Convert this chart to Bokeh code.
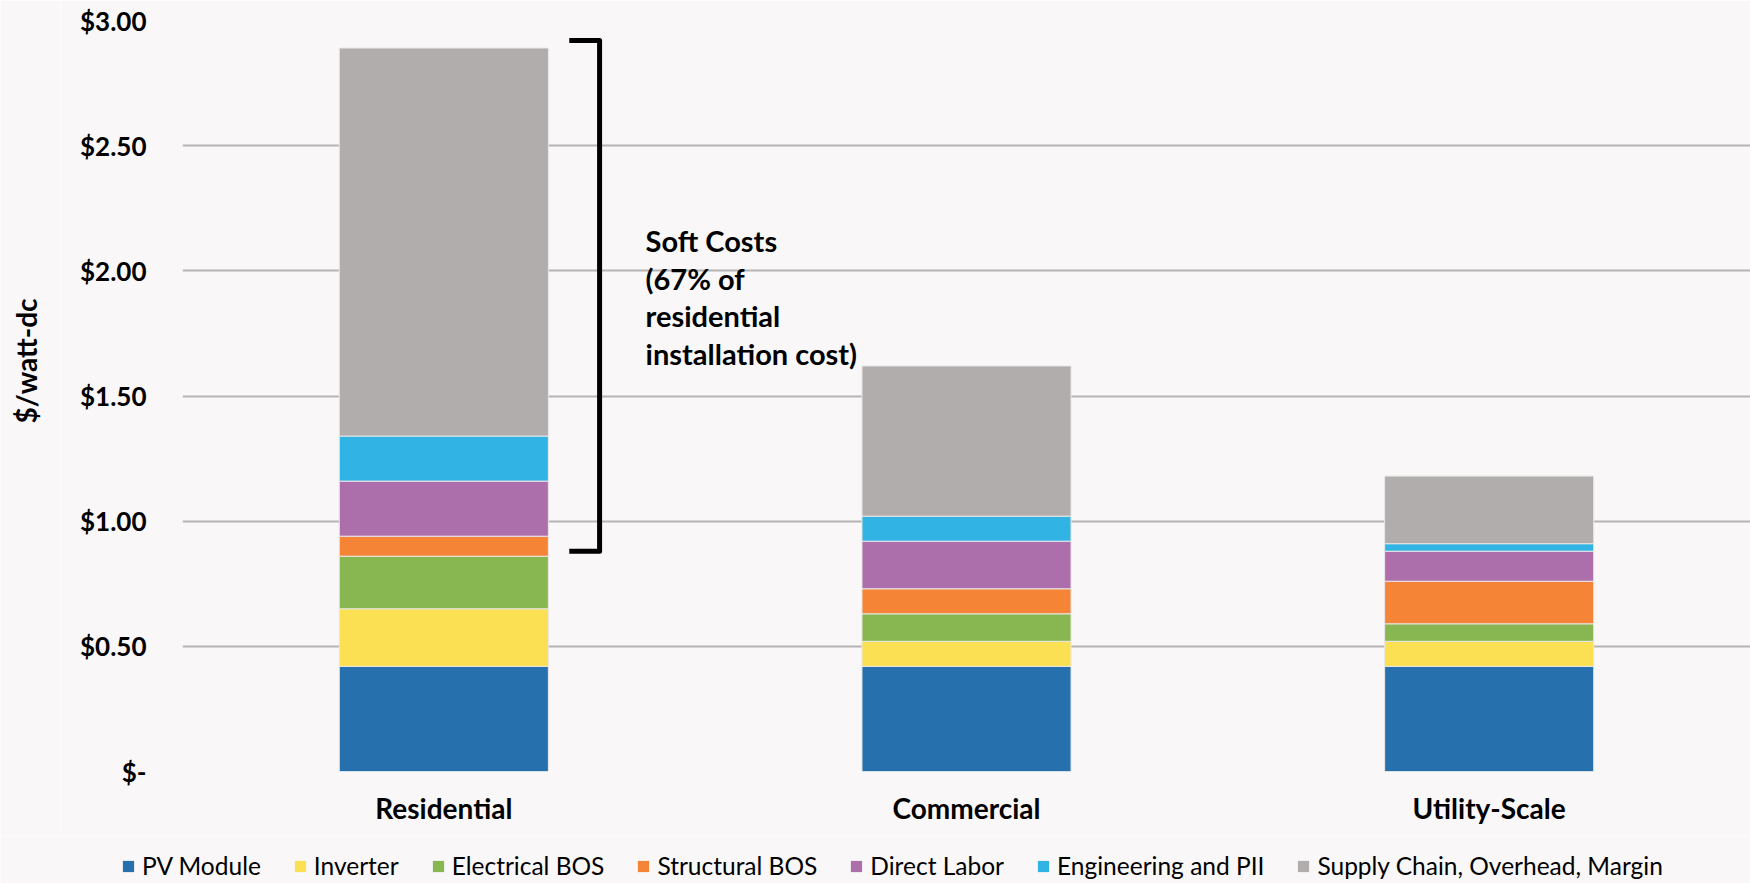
import math
from bokeh.plotting import figure
from bokeh.layouts import column, row
from bokeh.models import Range1d, FixedTicker, Legend, LegendItem, ColumnDataSource
from bokeh.core.properties import value
from bokeh.embed import file_html
from bokeh.resources import INLINE

# ---------------- data ----------------
categories = ["Residential", "Commercial", "Utility-Scale"]
series_names = ["PV Module", "Inverter", "Electrical BOS", "Structural BOS",
                "Direct Labor", "Engineering and PII", "Supply Chain, Overhead, Margin"]
pv_module = [0.42, 0.42, 0.42]
inverter = [0.23, 0.10, 0.10]
electrical_bos = [0.21, 0.11, 0.07]
structural_bos = [0.08, 0.10, 0.17]
direct_labor = [0.22, 0.19, 0.12]
engineering_pii = [0.18, 0.10, 0.03]
supply_chain = [1.55, 0.60, 0.27]
series_colors = ["#2670ae", "#fae052", "#88b651", "#f58437", "#ad6fac", "#31b3e3", "#b0adac"]

y_ticks = [0.0, 0.5, 1.0, 1.5, 2.0, 2.5, 3.0]
y_tick_labels = ["$-", "$0.50", "$1.00", "$1.50", "$2.00", "$2.50", "$3.00"]
y_title = "$/watt-dc"

annotation_text = "Soft Costs\n(67% of\nresidential\ninstallation cost)"
bracket_span = [0.88, 2.92]  # $/watt range covered by the soft-cost bracket

# ---------------- figure ----------------
BG = "#f9f7f8"
keys = ["pv", "inv", "ebos", "sbos", "labor", "eng", "supply"]
x_pos = [i + 0.5 for i in range(len(categories))]
source = ColumnDataSource(dict(x=x_pos, pv=pv_module, inv=inverter, ebos=electrical_bos,
                               sbos=structural_bos, labor=direct_labor, eng=engineering_pii,
                               supply=supply_chain))

TITLE_W = 60
p = figure(width=1750 - TITLE_W, height=835, output_backend="svg", toolbar_location=None,
           x_range=Range1d(0, len(categories)), y_range=Range1d(0, 3.0),
           min_border_left=182 - TITLE_W, min_border_right=0, min_border_top=20, min_border_bottom=64)
p.frame_align = False
p.background_fill_color = BG
p.border_fill_color = BG
p.outline_line_color = None

renderers = p.vbar_stack(keys, x="x", width=0.4, source=source,
                         fill_color=series_colors, line_color="#e9e7e7", line_width=1)

# bracket for soft costs (residential)
bx0 = x_pos[0] + 0.24
bx1 = x_pos[0] + 0.298
p.line(x=[bx0, bx1, bx1, bx0], y=[bracket_span[1], bracket_span[1], bracket_span[0], bracket_span[0]],
       line_color="black", line_width=5, line_join="round")

p.text(x=[x_pos[0] + 0.386], y=[2.19], text=[annotation_text], text_font=value("Lato"),
       text_font_style="bold", text_font_size="29px", text_baseline="top", text_align="left",
       text_line_height=1.07, text_color="black")

# axes
p.yaxis.ticker = FixedTicker(ticks=y_ticks)
p.yaxis.major_label_overrides = {t: l for t, l in zip(y_ticks, y_tick_labels)}
p.yaxis.major_label_text_font = "Lato"
p.yaxis.major_label_text_font_style = "bold"
p.yaxis.major_label_text_font_size = "26px"
p.yaxis.major_label_text_color = "black"
p.yaxis.major_label_standoff = 30
p.yaxis.axis_line_color = None
p.yaxis.major_tick_line_color = None
p.yaxis.minor_tick_line_color = None

p.xaxis.ticker = FixedTicker(ticks=x_pos)
p.xaxis.major_label_overrides = {x: c for x, c in zip(x_pos, categories)}
p.xaxis.major_label_text_font = "Lato"
p.xaxis.major_label_text_font_style = "bold"
p.xaxis.major_label_text_font_size = "28px"
p.xaxis.major_label_text_color = "black"
p.xaxis.major_label_standoff = 13
p.xaxis.axis_line_color = None
p.xaxis.major_tick_line_color = None
p.xaxis.minor_tick_line_color = None

p.xgrid.visible = False
p.ygrid.ticker = FixedTicker(ticks=y_ticks)
p.ygrid.grid_line_color = "#b5b3b3"
p.ygrid.grid_line_width = 2

# ---------------- y-axis title strip ----------------
tfig = figure(width=TITLE_W, height=835, output_backend="svg", toolbar_location=None,
              x_range=Range1d(0, 1), y_range=p.y_range,
              x_axis_location=None, y_axis_location=None,
              min_border_left=0, min_border_right=0, min_border_top=20, min_border_bottom=64)
tfig.frame_align = False
tfig.background_fill_color = BG
tfig.border_fill_color = BG
tfig.outline_line_color = None
tfig.xgrid.visible = False
tfig.ygrid.visible = False
tfig.text(x=[0.42], y=[1.64], text=[y_title], angle=math.pi / 2, text_font=value("Lato"),
          text_font_style="bold", text_font_size="28px", text_align="center",
          text_baseline="middle", text_color="black")

# ---------------- legend strip ----------------
# legend keys: same stacked series, drawn with zero width so only the legend swatches show
leg = figure(width=1750, height=48, output_backend="svg", toolbar_location=None,
             x_range=Range1d(0, len(categories)), y_range=Range1d(0, 3.0),
             x_axis_location=None, y_axis_location=None,
             min_border_left=0, min_border_right=0, min_border_top=0, min_border_bottom=0)
leg.frame_align = False
leg.background_fill_color = BG
leg.border_fill_color = BG
leg.outline_line_color = None
leg.xgrid.visible = False
leg.ygrid.visible = False
leg_renderers = leg.vbar_stack(keys, x="x", width=0, source=source,
                               fill_color=series_colors, line_color=None)
legend = Legend(items=[LegendItem(label=n, renderers=[r]) for n, r in zip(series_names, leg_renderers)],
                orientation="horizontal", location=(121, 3),
                glyph_width=14, glyph_height=14, label_standoff=7, spacing=32,
                padding=0, margin=0, border_line_color=None, background_fill_alpha=0,
                label_text_font="Lato", label_text_font_size="24.5px", label_text_color="black")
leg.add_layout(legend, "center")

layout = column(row(tfig, p, spacing=0), leg, spacing=0)
open("out.html", "w").write(file_html(layout, INLINE))
